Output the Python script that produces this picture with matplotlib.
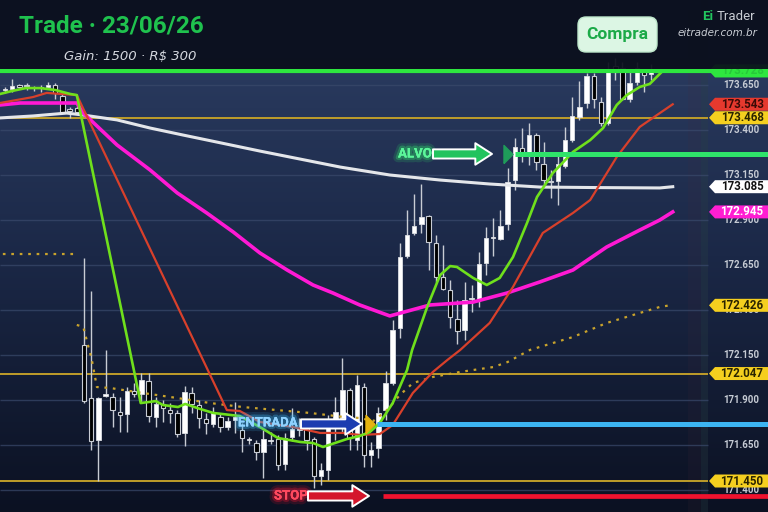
import numpy as np
import matplotlib.pyplot as plt
import matplotlib.patheffects as pe
import matplotlib.transforms as mtransforms
from matplotlib.patches import FancyArrowPatch, FancyBboxPatch, Polygon
from matplotlib.colors import to_rgb

# --- candles (OHLC) ---
opens = [173.622, 173.628, 173.650, 173.644, 173.633, 173.633, 173.639, 173.650, 173.589, 173.511,
         173.522, 172.206, 171.911, 171.678, 171.922, 171.917, 171.833, 171.822, 171.950, 171.933,
         172.006, 171.806, 171.878, 171.844, 171.828, 171.717, 171.939, 171.872, 171.794, 171.767,
         171.806, 171.750, 171.789, 171.733, 171.678, 171.661, 171.611, 171.672, 171.683, 171.544,
         171.694, 171.733, 171.744, 171.683, 171.478, 171.511, 171.744, 171.800, 171.956, 171.678,
         171.972, 171.594, 171.633, 171.844, 171.994, 172.300, 172.700, 172.828, 172.878, 172.922,
         172.772, 172.583, 172.511, 172.350, 172.289, 172.461, 172.461, 172.661, 172.800, 172.794,
         172.878, 173.122, 173.300, 173.278, 173.372, 173.211, 173.117, 173.117, 173.200, 173.344,
         173.472, 173.550, 173.700, 173.556, 173.439, 173.756, 173.744, 173.572, 173.667, 173.722,
         173.711]
highs = [173.639, 173.683, 173.656, 173.661, 173.644, 173.650, 173.667, 173.661, 173.600, 173.528,
         173.533, 172.689, 172.506, 171.917, 172.178, 171.939, 171.917, 171.972, 171.994, 172.050,
         172.050, 171.917, 171.900, 171.883, 171.844, 171.978, 171.972, 171.900, 171.828, 171.861,
         171.828, 171.806, 171.889, 171.772, 171.694, 171.678, 171.733, 171.722, 171.706, 171.717,
         171.856, 171.800, 171.761, 171.694, 171.550, 171.817, 171.917, 172.133, 171.967, 172.039,
         171.994, 171.667, 171.861, 172.061, 172.344, 172.772, 172.956, 173.044, 173.100, 172.928,
         172.817, 172.761, 172.567, 172.456, 172.556, 172.539, 172.722, 172.861, 172.911, 172.956,
         173.189, 173.356, 173.411, 173.439, 173.383, 173.333, 173.178, 173.261, 173.417, 173.583,
         173.672, 173.717, 173.717, 173.583, 173.778, 173.800, 173.778, 173.728, 173.778, 173.733,
         173.767]
lows = [173.606, 173.611, 173.633, 173.622, 173.617, 173.611, 173.628, 173.572, 173.494, 173.467,
        173.500, 171.883, 171.622, 171.450, 171.917, 171.750, 171.722, 171.722, 171.917, 171.883,
        171.778, 171.750, 171.778, 171.772, 171.694, 171.644, 171.828, 171.744, 171.711, 171.750,
        171.722, 171.733, 171.717, 171.611, 171.656, 171.567, 171.467, 171.656, 171.511, 171.511,
        171.672, 171.700, 171.622, 171.411, 171.428, 171.456, 171.678, 171.722, 171.622, 171.622,
        171.528, 171.528, 171.578, 171.789, 171.983, 172.244, 172.689, 172.817, 172.828, 172.622,
        172.556, 172.511, 172.300, 172.211, 172.233, 172.389, 172.417, 172.594, 172.700, 172.789,
        172.844, 173.067, 173.222, 173.206, 173.178, 173.094, 173.022, 172.983, 173.189, 173.333,
        173.456, 173.522, 173.522, 173.422, 173.428, 173.678, 173.567, 173.556, 173.650, 173.611,
        173.678]
closes = [173.625, 173.644, 173.639, 173.642, 173.636, 173.633, 173.650, 173.606, 173.500, 173.508,
          173.500, 171.894, 171.672, 171.911, 171.933, 171.844, 171.817, 171.950, 171.933, 172.011,
          171.811, 171.878, 171.856, 171.828, 171.711, 171.944, 171.878, 171.800, 171.772, 171.828,
          171.750, 171.783, 171.806, 171.689, 171.678, 171.611, 171.683, 171.678, 171.539, 171.689,
          171.739, 171.744, 171.678, 171.478, 171.511, 171.744, 171.833, 171.956, 171.689, 171.983,
          171.594, 171.622, 171.828, 171.994, 172.289, 172.694, 172.817, 172.867, 172.917, 172.778,
          172.583, 172.517, 172.361, 172.283, 172.456, 172.461, 172.656, 172.800, 172.800, 172.867,
          173.111, 173.306, 173.278, 173.372, 173.222, 173.122, 173.111, 173.211, 173.344, 173.478,
          173.528, 173.700, 173.572, 173.439, 173.733, 173.722, 173.572, 173.661, 173.744, 173.706,
          173.733]

# --- moving averages (candle index, price) ---
fast_x = [-0.7, 1.0, 2.9, 4.9, 7.0, 9.1, 10.0, 18.9, 21.0, 22.0, 24.1, 25.1, 27.2, 29.0, 32.7, 35.5,
          38.0, 41.1, 42.9, 44.3, 47.6, 49.4, 50.8, 52.2, 54.0, 56.0, 56.7, 58.8, 60.6, 62.0, 62.95,
          65.2, 67.1, 68.9, 70.75, 72.7, 74.1, 76.3, 79.1, 81.5, 83.3, 85.2, 86.6, 88.4, 89.8, 91.6]
fast_y = [173.600, 173.617, 173.633, 173.633, 173.622, 173.600, 173.594, 171.883, 171.894, 171.872,
          171.861, 171.878, 171.850, 171.828, 171.811, 171.750, 171.689, 171.667, 171.661, 171.639,
          171.683, 171.700, 171.722, 171.772, 171.883, 172.067, 172.178, 172.417, 172.594, 172.644,
          172.639, 172.578, 172.539, 172.578, 172.694, 172.883, 173.028, 173.161, 173.278, 173.344,
          173.411, 173.539, 173.594, 173.639, 173.656, 173.728]
red_x = [-0.7, 3.9, 5.8, 10.0, 30.9, 32.7, 35.5, 40.1, 43.9, 47.1, 49.4, 52.2, 54.0, 56.8, 59.6,
         61.6, 63.4, 67.5, 70.75, 74.9, 79.1, 81.5, 85.2, 88.4, 90.8, 93.0]
red_y = [173.550, 173.583, 173.606, 173.594, 171.844, 171.839, 171.778, 171.750, 171.717, 171.717,
         171.706, 171.711, 171.761, 171.939, 172.056, 172.122, 172.178, 172.328, 172.528, 172.828,
         172.939, 173.011, 173.250, 173.417, 173.483, 173.543]
mag_x = [-0.7, 2.1, 6.3, 10.0, 10.9, 15.6, 20.2, 24.0, 28.1, 31.8, 35.5, 39.3, 42.9, 45.7, 49.4,
         53.6, 59.2, 65.2, 69.9, 74.5, 79.1, 83.8, 88.4, 91.2, 93.0]
mag_y = [173.539, 173.550, 173.550, 173.550, 173.494, 173.317, 173.178, 173.050, 172.939, 172.833,
         172.717, 172.622, 172.539, 172.494, 172.428, 172.367, 172.428, 172.444, 172.494, 172.556,
         172.622, 172.750, 172.844, 172.900, 172.945]
white_x = [-0.7, 3.9, 8.6, 10.9, 15.6, 20.2, 24.8, 29.5, 35.5, 46.7, 53.6, 60.6, 67.5, 74.5, 82.9,
           91.2, 93.0]
white_y = [173.467, 173.478, 173.494, 173.483, 173.456, 173.411, 173.372, 173.333, 173.283, 173.194,
           173.150, 173.122, 173.100, 173.083, 173.080, 173.078, 173.085]
dot_x = [-0.3, 9.6, np.nan, 10.0, 10.9, 12.1, 12.8, 14.6, 19.2, 24.0, 28.6, 33.1, 37.9, 42.5, 47.1,
         49.4, 51.3, 53.2, 55.0, 56.8, 59.6, 63.4, 68.0, 70.0, 73.1, 79.1, 83.8, 91.2, 92.6]
dot_y = [172.711, 172.711, np.nan, 172.317, 172.306, 172.122, 171.972, 171.967, 171.939, 171.911,
         171.883, 171.861, 171.844, 171.828, 171.806, 171.800, 171.783, 171.844, 171.928, 171.994,
         172.028, 172.056, 172.083, 172.111, 172.178, 172.250, 172.328, 172.417, 172.426]

# --- levels ---
top_level = 173.728
alvo = 173.267
entrada = 171.767
stop = 171.367
yellow_levels = [173.468, 172.047, 171.450]
entry_idx = 51
target_idx = 70

price_ticks = [171.400, 171.650, 171.900, 172.150, 172.400, 172.650, 172.900, 173.150, 173.400, 173.650]
tag_prices = [173.543, 173.468, 173.085, 172.945, 172.426, 172.047, 171.450]
tag_faces = ['#e5392e', '#f5cf1f', '#ffffff', '#ff1ed2', '#f5cf1f', '#f5cf1f', '#f5cf1f']
tag_texts = ['#3a0a06', '#2a2400', '#111111', '#ffffff', '#2a2400', '#2a2400', '#2a2400']

W, H, DPI = 768, 512, 100
X0, DX = 5.0, 7.18
def px(x):
    return (x - X0) / DX

fig = plt.figure(figsize=(W / DPI, H / DPI), dpi=DPI)
fig.patch.set_facecolor('#0a0e1b')
ax = fig.add_axes([0, 0, 1, 1])
xlim = (px(0), px(W))
ylim = (171.2778, 174.1222)

# background gradient
top = np.array(to_rgb('#2e4066'))
mid = np.array(to_rgb('#1b2847'))
bot = np.array(to_rgb('#0b1122'))
t = np.linspace(0, 1, 256)[:, None]
grad = np.where(t < 0.5, top + (mid - top) * (t / 0.5), mid + (bot - mid) * ((t - 0.5) / 0.5))
ax.imshow(grad[:, None, :], extent=[xlim[0], xlim[1], ylim[0], ylim[1]], aspect='auto',
          origin='upper', zorder=0)
ax.set_xlim(*xlim)
ax.set_ylim(*ylim)
ax.axis('off')

# volume profile column
ax.axvspan(px(688), px(708), color='#4a2a3a', alpha=0.12, lw=0, zorder=1)
ax.axvspan(px(701), px(708), color='#1f4a4a', alpha=0.22, lw=0, zorder=1)

# grid
ax.hlines(price_ticks, xlim[0], px(708), color='#3a4a6c', lw=1, alpha=0.7, zorder=1)

# level lines
ax.hlines(yellow_levels, xlim[0], px(708), color='#bf9d2a', lw=1.4, zorder=2)

# moving averages
ax.plot(dot_x, dot_y, color='#c9a32c', lw=1.6, ls=(0, (1.2, 2.6)), zorder=5)
ax.plot(white_x, white_y, color='#e4e6ea', lw=2.2, zorder=5)
ax.plot(mag_x, mag_y, color='#ff19d4', lw=2.6, zorder=5)
ax.plot(red_x, red_y, color='#d8402b', lw=1.6, zorder=6)

# candles
o, hi, lo, c = map(np.array, (opens, highs, lows, closes))
idx = np.arange(len(o))
up = c >= o
ax.vlines(idx, lo, hi, color='#c8ccd4', lw=1, zorder=3)
bh = np.maximum(np.abs(c - o), 0.007)
bb = np.minimum(o, c)
ax.bar(idx[up], bh[up], bottom=bb[up], width=0.62, color='white', edgecolor='#dcdfe4', lw=0.6, zorder=4)
ax.bar(idx[~up], bh[~up], bottom=bb[~up], width=0.62, color='black', edgecolor='#c8ccd4', lw=0.8, zorder=4)

ax.plot(fast_x, fast_y, color='#6fe01c', lw=1.9, zorder=7)

# trade lines
ax.hlines(top_level, xlim[0], xlim[1], color='#2ee63f', lw=3, zorder=9)
ax.hlines(alvo, target_idx + 1.0, xlim[1], color='#2fe46a', lw=3.6, zorder=8)
ax.hlines(entrada, entry_idx + 0.8, xlim[1], color='#3cb4f2', lw=3.6, zorder=8)
ax.hlines(stop, entry_idx + 1.6, xlim[1], color='#f0122e', lw=3.4, zorder=8)

tri = [(-0.5, -1.0), (0.5, 0.0), (-0.5, 1.0), (-0.5, -1.0)]
ax.plot([target_idx], [alvo], marker=tri, markersize=13, color='#1f9c5a', zorder=9)
ax.plot([entry_idx - 0.15], [entrada], marker=tri, markersize=13, color='#e6b40f', zorder=9)

narrow = ['Roboto', 'DejaVu Sans']

def glow_label(x, y, text, color, glow, size=9.5):
    ax.text(x, y, text, color=color, fontsize=size, fontweight='bold', family=narrow,
            ha='center', va='center', zorder=11,
            path_effects=[pe.withStroke(linewidth=7, foreground=glow, alpha=0.16),
                          pe.withStroke(linewidth=3.5, foreground=glow, alpha=0.32),
                          pe.Normal()])

def arrow(x0, x1, y, face):
    a = FancyArrowPatch((x0, y), (x1, y), arrowstyle='simple,head_length=1.2,head_width=1.55,tail_width=0.66',
                        mutation_scale=10, fc=face, ec='white', lw=1.4, shrinkA=0, shrinkB=0, zorder=11)
    ax.add_patch(a)

glow_label(px(415), alvo, 'ALVO', '#5cf59a', '#2fe46a')
arrow(px(433), px(492), alvo, '#22c35e')
glow_label(px(268), entrada + 0.006, 'ENTRADA', '#8fd2ff', '#3cb4f2')
arrow(px(301), px(362), entrada, '#1c3cb0')
glow_label(px(291), stop, 'STOP', '#ff4a60', '#f0122e')
arrow(px(308), px(369), stop, '#d4162c')

# right axis labels and tags
blend = mtransforms.blended_transform_factory(ax.transAxes, ax.transData)
for p in price_ticks:
    ax.text(741 / W, p, f'{p:.3f}', transform=blend, ha='center', va='center',
            fontsize=7, fontweight='bold', family=['Roboto', 'DejaVu Sans'], color='#c6cbd4', zorder=10)

hh = 6.5 / 180
tip, body = 709 / W, 715 / W
def tag(p, face, tc):
    poly = Polygon([(tip, p), (body, p + hh), (1.0, p + hh), (1.0, p - hh), (body, p - hh)],
                   closed=True, transform=blend, fc=face, ec='none', zorder=12)
    ax.add_patch(poly)
    ax.text(742 / W, p, f'{p:.3f}', transform=blend, ha='center', va='center', fontsize=8.3,
            fontweight='bold', family=['Roboto', 'DejaVu Sans'], color=tc, zorder=13)

for p, f, tc in zip(tag_prices, tag_faces, tag_texts):
    tag(p, f, tc)
tag(top_level, '#2ee63f', '#27c83a')

# header
ax.add_patch(plt.Rectangle((0, 1 - 69 / H), 1, 69 / H, transform=ax.transAxes,
                           fc='#0a0e1b', ec='none', alpha=0.93, zorder=15))

fig.text(19 / W, 1 - 26 / H, 'Trade · 23/06/26', ha='left', va='center', fontsize=17.5,
         fontweight='bold', family=narrow, color='#1fc24e', zorder=20)
fig.text(64 / W, 1 - 56 / H, 'Gain: 1500 · R$ 300', ha='left', va='center', fontsize=9.5,
         style='italic', color='#d5d8df', zorder=20)

box = FancyBboxPatch((578, H - 52), 79, 35, boxstyle='round,pad=0,rounding_size=8',
                     transform=mtransforms.IdentityTransform(), fc='#dcf6e4', ec='#bfe8cc',
                     lw=1, zorder=20)
fig.patches.append(box)
fig.text(617.5 / W, 1 - 35 / H, 'Compra', ha='center', va='center', fontsize=12.5,
         fontweight='bold', family=narrow, color='#1caa48', zorder=21)

fig.text(702 / W, 1 - 17 / H, 'Ei', ha='left', va='center', fontsize=9.5, fontweight='bold',
         family=['Roboto', 'DejaVu Sans'], color='#22c55e', zorder=20)
fig.text(717 / W, 1 - 17 / H, 'Trader', ha='left', va='center', fontsize=9.5,
         family=['Roboto', 'DejaVu Sans'], color='#c8ccd3', zorder=20)
fig.text(757 / W, 1 - 33 / H, 'eitrader.com.br', ha='right', va='center', fontsize=7.5,
         style='italic', color='#c8ccd3', zorder=20)

fig.savefig('out.png', dpi=DPI, facecolor=fig.get_facecolor())
